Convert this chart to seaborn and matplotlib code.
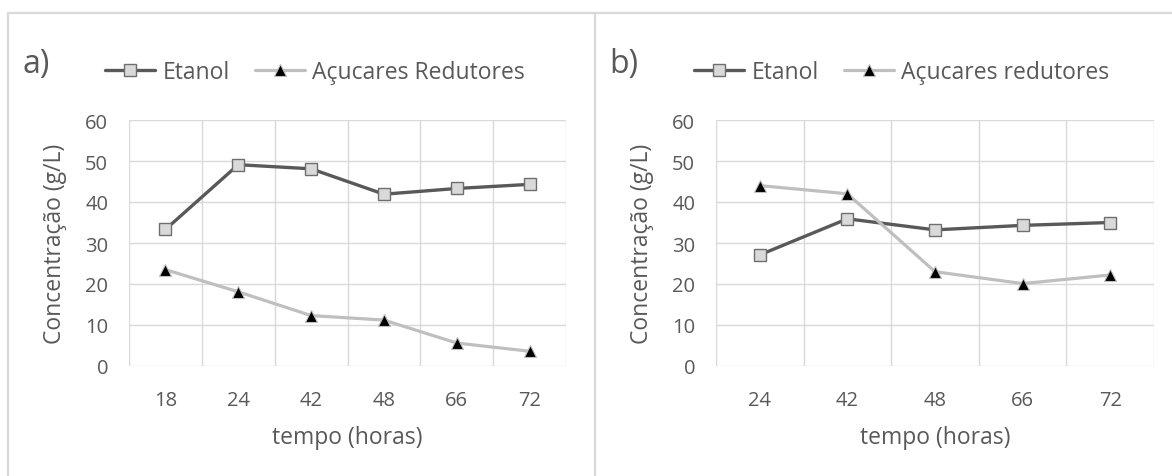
import numpy as np
import pandas as pd
import matplotlib
matplotlib.use("Agg")
import matplotlib.pyplot as plt
from matplotlib.lines import Line2D
import seaborn as sns

# Fermentation time points (hours) for each experiment
categories_a = ["18", "24", "42", "48", "66", "72"]
etanol_a = [33.3, 49.1, 48.1, 41.9, 43.3, 44.3]
acucares_a = [23.5, 18.1, 12.3, 11.2, 5.6, 3.6]

categories_b = ["24", "42", "48", "66", "72"]
etanol_b = [27.1, 35.9, 33.2, 34.3, 35.0]
acucares_b = [44.0, 42.0, 23.0, 20.1, 22.2]

labels_a = ["Etanol", "Açucares Redutores"]
labels_b = ["Etanol", "Açucares redutores"]
y_ticks = [0, 10, 20, 30, 40, 50, 60]

sns.set_theme(style="white")
plt.rcParams["font.family"] = ["Open Sans", "DejaVu Sans"]

TEXT = "#595959"
GRID = "#d9d9d9"
W, H = 1172, 477

fig = plt.figure(figsize=(W / 100, H / 100), dpi=100)


def px_rect(left, right, top, bottom):
    return [left / W, 1 - bottom / H, (right - left) / W, (bottom - top) / H]


etanol_style = dict(color="#595959", linewidth=2.4, marker="s", markersize=9.2,
                    markerfacecolor="#d9d9d9", markeredgecolor="#6e6e6e",
                    markeredgewidth=1.0)
acucar_style = dict(color="#bfbfbf", linewidth=2.3, marker="^", markersize=9.0,
                    markerfacecolor="#000000", markeredgecolor="#bfbfbf",
                    markeredgewidth=0.8)


def draw_panel(rect, cats, etanol, acucar, names, tag, tag_x, legend_x):
    ax = fig.add_axes(rect)
    n = len(cats)
    df = pd.DataFrame({"pos": np.arange(n), "etanol": etanol, "acucar": acucar})
    sns.lineplot(data=df, x="pos", y="etanol", ax=ax, legend=False, **etanol_style)
    sns.lineplot(data=df, x="pos", y="acucar", ax=ax, legend=False, **acucar_style)

    ax.set_xlim(-0.5, n - 0.5)
    ax.set_ylim(0, 60)
    ax.set_xticks(np.arange(n), labels=cats)
    ax.set_xticks(np.arange(n + 1) - 0.5, minor=True)
    ax.set_yticks(y_ticks)
    ax.grid(False)
    ax.grid(axis="x", which="minor", color=GRID, linewidth=1.0)
    ax.grid(axis="y", which="major", color=GRID, linewidth=1.0)
    ax.set_axisbelow(True)
    for s in ax.spines.values():
        s.set_visible(False)
    ax.tick_params(axis="both", which="both", length=0, labelsize=14.5, colors=TEXT)
    ax.tick_params(axis="y", pad=15)
    ax.tick_params(axis="x", pad=17)
    ax.set_xlabel("tempo (horas)", fontsize=16.5, color=TEXT, labelpad=11)
    ax.set_ylabel("Concentração (g/L)", fontsize=16.5, color=TEXT, labelpad=13)

    handles = [Line2D([], [], **etanol_style), Line2D([], [], **acucar_style)]
    fig.legend(handles, names, loc="center left",
               bbox_to_anchor=(legend_x / W, 1 - 73 / H), ncol=2, frameon=False,
               fontsize=16.5, handlelength=2.2, handletextpad=0.3,
               columnspacing=1.1, borderpad=0, borderaxespad=0,
               labelcolor=TEXT)
    fig.text(tag_x / W, 1 - 65 / H, tag, fontsize=23, color=TEXT,
             ha="left", va="center")
    return ax


ax_a = draw_panel(px_rect(129, 566, 121, 367), categories_a, etanol_a, acucares_a,
                  labels_a, "a)", 22, 105)
ax_b = draw_panel(px_rect(716, 1154, 121, 367), categories_b, etanol_b, acucares_b,
                  labels_b, "b)", 609, 694)

# Panel frames
frame = dict(color=GRID, linewidth=1.6, transform=fig.transFigure)
fig.add_artist(Line2D([8 / W, 1], [1 - 13.5 / H, 1 - 13.5 / H], **frame))
fig.add_artist(Line2D([8 / W, 8 / W], [0, 1 - 13.5 / H], **frame))
fig.add_artist(Line2D([595 / W, 595 / W], [0, 1 - 13.5 / H], **frame))

fig.savefig("out.png", dpi=100, facecolor="white")
